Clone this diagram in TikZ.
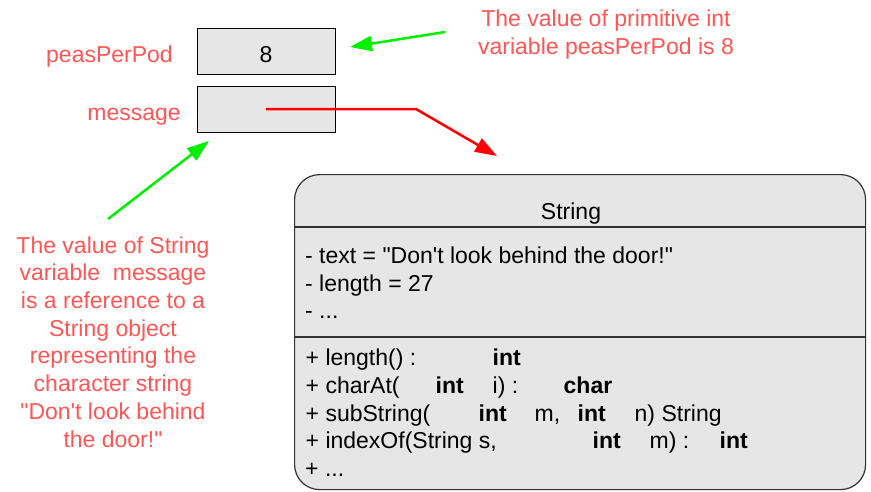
\documentclass[tikz,border=0pt]{standalone}
\usepackage{fontspec}
\setmainfont{Liberation Sans}
\usetikzlibrary{arrows.meta}
\usetikzlibrary{positioning}
\definecolor{notered}{RGB}{255,85,85}
\definecolor{refred}{RGB}{255,0,0}
\definecolor{valgreen}{RGB}{0,240,0}
\definecolor{cellgray}{RGB}{230,230,230}
\newcommand{\putat}[2]{\rlap{\hspace*{#1pt}#2}}

\begin{document}
\begin{tikzpicture}[x=1pt,y=-1pt,
    every node/.style={font=\fontsize{23}{27.7}\selectfont, inner sep=0pt},
    cell/.style={draw=black, fill=cellgray, line width=1pt, minimum width=138pt, minimum height=46pt},
    note/.style={text=notered, align=center},
    pointer/.style={line width=2.5pt, -{Triangle[length=22pt,width=15pt]}},
    member/.style={anchor=base west}]
    \useasboundingbox (0,0) rectangle (871,491);
    % variables
    \node[cell]                     (pp_box)    at (266,51)  {};
    \node[cell]                     (msg_box)   at (266,109) {};
    \node[anchor=base]              (pp_value)  at (266,62)  {8};
    \node[note, anchor=base east]   (pp_label)  at (173,62)  {peasPerPod};
    \node[note, anchor=base east]   (msg_label) at (181,120) {message};
    % notes (base = last line)
    \node[note, anchor=base] (int_note) at (606,54)
        {The value of primitive int\\variable peasPerPod is 8};
    \node[note, anchor=base] (str_note) at (113,447)
        {The value of String\\variable\ \ message\\is a reference to a\\String object\\representing the\\character string\\\textquotedbl Don\textquotesingle t look behind\\the door!\textquotedbl};
    % String object
    \node[draw=black!80, fill=cellgray, line width=1.2pt, rounded corners=25pt,
          minimum width=571pt, minimum height=315pt, anchor=north west] (str_obj) at (294,174) {};
    \draw[black!80, line width=1.2pt] (str_obj.west |- 0,227) -- (str_obj.east |- 0,227);
    \draw[black!80, line width=1.2pt] (str_obj.west |- 0,337) -- (str_obj.east |- 0,337);
    \node[anchor=base] (str_title) at (571,219) {String};
    \node[member] (attr_text) at (305,263) {- text = \textquotedbl Don\textquotesingle t look behind the door!\textquotedbl};
    \node[member] (attr_len)  at (305,291) {- length = 27};
    \node[member] (attr_more) at (305,318) {- ...};
    \node[member] (op_len)    at (305,365) {\putat{0}{+ length() :}\putat{187}{\bfseries int}};
    \node[member] (op_char)   at (305,393) {\putat{0}{+ charAt(}\putat{130}{\bfseries int}\putat{187}{i) :}\putat{258}{\bfseries char}};
    \node[member] (op_sub)    at (305,421) {\putat{0}{+ subString(}\putat{173}{\bfseries int}\putat{229}{m,}\putat{272}{\bfseries int}\putat{329}{n) String}};
    \node[member] (op_index)  at (305,448) {\putat{0}{+ indexOf(String s,}\putat{287}{\bfseries int}\putat{344}{m) :}\putat{414}{\bfseries int}};
    \node[member] (op_more)   at (305,476) {+ ...};
    % connectors
    \coordinate (ref_bend) at (416,109);
    \coordinate (ref_tip)  at (497,156);
    \coordinate (int_from) at (445,32);
    \coordinate (int_to)   at (350,47);
    \coordinate (str_from) at (108,219);
    \coordinate (str_to)   at (209,141);
    \draw[pointer, refred] (msg_box.center) -- (ref_bend) -- (ref_tip);
    \draw[pointer, valgreen] (int_from) -- (int_to);
    \draw[pointer, valgreen] (str_from) -- (str_to);
\end{tikzpicture}
\end{document}
